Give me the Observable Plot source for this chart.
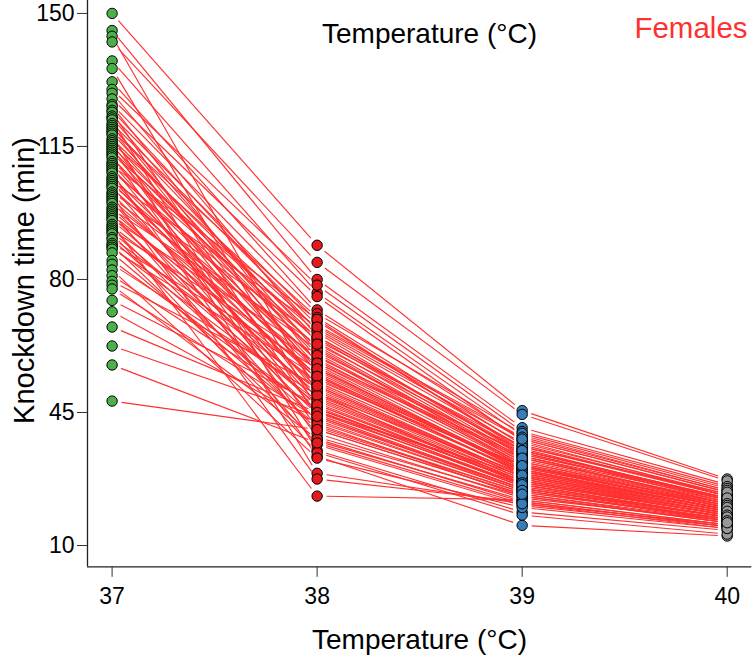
<!DOCTYPE html>
<html>
<head>
<meta charset="utf-8">
<script src="https://cdn.jsdelivr.net/npm/d3@7"></script>
<script src="https://cdn.jsdelivr.net/npm/@observablehq/plot@0.6"></script>
<style>
  html, body { margin: 0; padding: 0; background: #fff; }
</style>
</head>
<body>
<div id="chart"></div>
<script>
// Knockdown time (min) of each female at four test temperatures (°C).
// Index i in every array is the same individual.
const temperatures = [37, 38, 39, 40];
const pointColors = ["#4daf4a", "#e41a1c", "#377eb8", "#999999"];
const yTicks = [10, 45, 80, 115, 150];

const knockdown37 = [
  150, 145.5, 144, 142.5, 137.5, 135.5, 132, 130, 129, 127.5,
  126, 125.5, 124.5, 124, 123, 122.5, 122, 121, 120.5, 120,
  119.5, 119, 118.5, 118, 117, 116.5, 116, 115.5, 115, 114.5,
  114, 113.5, 113, 112.5, 112, 111, 110.5, 110, 109.5, 109,
  108.5, 108, 107, 106.5, 106, 105.5, 105, 104.5, 104, 103,
  102.5, 102, 101.5, 101, 100.5, 100, 99, 98.5, 98, 97.5,
  97, 96.5, 96, 95.5, 94.5, 94, 93.5, 93, 92.5, 92,
  91, 90.5, 89.5, 89, 88.5, 88, 87, 85, 84, 82.5,
  81, 79.5, 78.5, 77.5, 74.5, 71.5, 67.5, 62.5, 57.5, 48
];
const knockdown38 = [
  89, 80, 50, 84.5, 76.5, 46, 72, 78.5, 65, 75.5,
  71, 58, 66.5, 44, 69, 61, 35, 68, 55.5, 63.5,
  52, 70, 59.5, 29, 64.5, 57, 67, 48.5, 62, 41,
  60.5, 53.5, 66, 38.5, 56.5, 64, 50.5, 69.5, 45, 58.5,
  62.5, 33.5, 54.5, 47.5, 67.5, 51.5, 59, 42.5, 56, 65,
  49, 27.5, 61.5, 54, 39.5, 57.5, 46.5, 63, 52.5, 36.5,
  55, 44.5, 60, 50, 23, 53, 40.5, 58, 47, 34.5,
  51, 43, 56.5, 37.5, 48, 54.5, 41.5, 45.5, 49.5, 33,
  46, 52, 38, 43.5, 47, 42, 45, 44, 37, 40.5
];
const knockdown39 = [
  45.5, 41, 29, 44.5, 39, 27, 38, 40, 35, 37.5,
  39.5, 31, 36, 25, 35.5, 34, 18.8, 38.5, 30, 33,
  28, 36.5, 34.5, 21, 33.5, 29.5, 37, 27, 32, 24,
  31.5, 31, 34, 23, 30.5, 36, 27.5, 35, 28.5, 33.5,
  32.5, 15.3, 29, 26.5, 38, 28, 31.5, 24.5, 30, 34.5,
  27, 21.5, 32, 29.5, 22.5, 30, 25.5, 35, 28.5, 20.5,
  29, 25, 31, 26, 22, 29.5, 23.5, 33, 26.5, 18,
  28, 24.5, 30.5, 22, 27, 31, 24, 25.5, 27.5, 20,
  26, 28.5, 21.5, 25, 26.5, 23, 26, 24.5, 21, 23.5
];
const knockdown40 = [
  27.5, 26, 19.5, 27, 24.5, 18, 24, 25.5, 22.5, 23,
  25, 21, 23.5, 17.5, 22, 22.5, 14, 24.5, 19.5, 21.5,
  19, 23, 21.5, 15.5, 22, 19.5, 23.5, 18, 21, 17,
  20.5, 20, 22.5, 16, 20, 23, 18.5, 22, 19, 21,
  21, 12.5, 19.5, 18, 24, 18.5, 20.5, 17, 19.5, 22,
  18.5, 15, 20.5, 19.5, 16.5, 20, 17.5, 22.5, 19, 15,
  19, 17.5, 20, 17.5, 15.5, 19.5, 16.5, 21, 18, 13,
  18.5, 16.5, 20.5, 15.5, 18, 20, 17, 17.5, 18.5, 14.5,
  17.5, 19, 15, 17, 18, 16, 17.5, 16.5, 14.5, 16
];

const series = [knockdown37, knockdown38, knockdown39, knockdown40];

// one dot per individual and temperature
const points = temperatures.flatMap((t, k) =>
  series[k].map((v, i) => ({temp: t, time: v, id: i})));

// one segment per individual between consecutive temperatures
const segments = [];
for (let k = 0; k < temperatures.length - 1; k++) {
  series[k].forEach((v, i) => segments.push({
    x1: temperatures[k], y1: v,
    x2: temperatures[k + 1], y2: series[k + 1][i]
  }));
}

// axis limits padded by 4% of the range, base-graphics style
const xDomain = [37 - 0.04 * 3, 40 + 0.04 * 3];
const yDomain = [10 - 0.04 * 140, 153.4];

const font = "'Liberation Sans', Arial, Helvetica, sans-serif";

const chart = Plot.plot({
  width: 756,
  height: 660,
  marginLeft: 87,
  marginRight: 4.7,
  marginTop: 0,
  marginBottom: 93.7,
  style: {fontFamily: font, fontSize: "23px", color: "#000", background: "#fff", overflow: "visible"},
  x: {domain: xDomain},
  y: {domain: yDomain},
  color: {type: "ordinal", domain: temperatures, range: pointColors},
  marks: [
    Plot.arrow(segments, {
      x1: "x1", y1: "y1", x2: "x2", y2: "y2",
      stroke: "#ff3030", strokeWidth: 1.15, headLength: 0,
      insetStart: 9.5, insetEnd: 9.5, strokeLinecap: "butt"
    }),
    Plot.dot(points, {x: "temp", y: "time", r: 5.2, fill: "temp", stroke: "#000", strokeWidth: 1}),
    Plot.ruleX([xDomain[0]], {stroke: "#222", strokeWidth: 1.3}),
    Plot.ruleY([yDomain[0]], {stroke: "#222", strokeWidth: 1.3}),
    Plot.axisY({ticks: yTicks, tickSize: 10, tickPadding: 3, label: null, stroke: "#333"}),
    Plot.axisX({ticks: temperatures, tickSize: 10.5, tickPadding: 10, label: null, stroke: "#333", tickFormat: d => String(d)}),
    // axis titles and panel labels
    Plot.text(["Temperature (°C)"], {frameAnchor: "top-left", dx: 419 - 87, dy: 640, fontSize: 28, textAnchor: "middle", lineAnchor: "middle", fill: "#000"}),
    Plot.text(["Knockdown time (min)"], {frameAnchor: "top-left", dx: 24 - 87, dy: 280, fontSize: 29, rotate: -90, textAnchor: "middle", lineAnchor: "middle", fill: "#000"}),
    Plot.text(["Temperature (°C)"], {frameAnchor: "top-left", dx: 429 - 87, dy: 34, fontSize: 28, textAnchor: "middle", lineAnchor: "middle", fill: "#000"}),
    Plot.text(["Females"], {frameAnchor: "top-left", dx: 690.5 - 87, dy: 27.6, fontSize: 29.5, textAnchor: "middle", lineAnchor: "middle", fill: "#ff3030"})
  ]
});

document.getElementById("chart").appendChild(chart);
</script>
</body>
</html>
